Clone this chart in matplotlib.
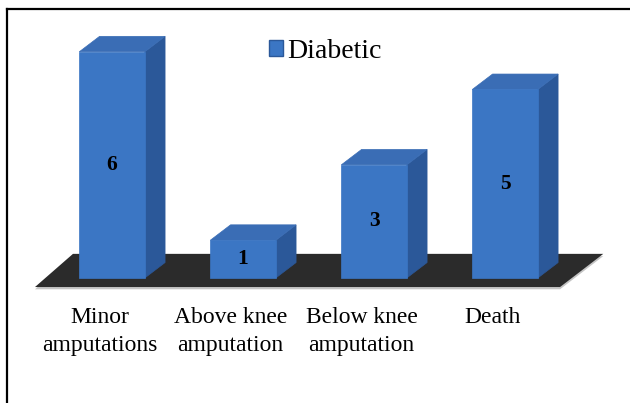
#!/usr/bin/env python3
"""Excel-style pseudo-3D column chart: outcomes in diabetic patients."""
import matplotlib
matplotlib.use("Agg")
import matplotlib.pyplot as plt
from matplotlib.patches import Polygon, Patch
from matplotlib.lines import Line2D

categories = ["Minor\namputations", "Above knee\namputation", "Below knee\namputation", "Death"]
values = [6, 1, 3, 5]
series_name = "Diabetic"

FRONT = "#3b76c4"
TOP = "#3a6db5"
SIDE = "#2b5899"
FLOOR = "#2b2b2b"
FLOOR_EDGE = "#c4c4c4"
SERIF = "Liberation Serif"

BAR_W = 0.5      # front face width (category units)
DX, DY = 0.155, 0.41   # depth offset of the 3D box

plt.rcParams["font.family"] = [SERIF, "DejaVu Serif"]

fig = plt.figure(figsize=(6.3, 4.03), dpi=100)
ax = fig.add_axes([0, 0, 1, 1])
ax.set_xlim(-0.855, 3.954)
ax.set_ylim(-3.316, 7.374)
ax.axis("off")

n = len(values)
# floor
fl = [(-0.588, -0.24), (n - 1 + 0.42, -0.24), (n - 1 + 0.75, 0.64), (-0.298, 0.64)]
shadow = [(x, y - 0.06) for x, y in fl]
ax.add_patch(Polygon(shadow, closed=True, facecolor=FLOOR_EDGE, edgecolor="none", zorder=1))
ax.add_patch(Polygon(fl, closed=True, facecolor=FLOOR, edgecolor="none", zorder=2))

for i, v in enumerate(values):
    x0, x1 = i - BAR_W / 2, i + BAR_W / 2
    front = [(x0, 0), (x1, 0), (x1, v), (x0, v)]
    side = [(x1, 0), (x1 + DX, DY), (x1 + DX, v + DY), (x1, v)]
    top = [(x0, v), (x1, v), (x1 + DX, v + DY), (x0 + DX, v + DY)]
    ax.add_patch(Polygon(side, closed=True, facecolor=SIDE, edgecolor=SIDE, lw=0.5, zorder=3))
    ax.add_patch(Polygon(top, closed=True, facecolor=TOP, edgecolor=TOP, lw=0.5, zorder=3))
    ax.add_patch(Polygon(front, closed=True, facecolor=FRONT, edgecolor=FRONT, lw=0.5, zorder=4))
    ax.text(i, v / 2, str(v), ha="center", va="center", fontsize=15.5,
            fontweight="bold", color="black", zorder=5)
    ax.text(i - 0.095, -0.78, categories[i], ha="center", va="top", fontsize=17,
            linespacing=1.4, color="black")

ax.legend(handles=[Patch(facecolor=FRONT, edgecolor="#2b5899", label=series_name)],
          loc="center", bbox_to_anchor=(325 / 630, 1 - 51 / 403),
          bbox_transform=fig.transFigure, frameon=False, fontsize=20,
          handlelength=0.5, handleheight=0.5, handletextpad=0.15, borderpad=0)

# chart frame (top and left edges visible)
fig.add_artist(Line2D([7 / 630, 1], [1 - 9 / 403, 1 - 9 / 403], color="black", lw=1.6))
fig.add_artist(Line2D([7 / 630, 7 / 630], [0, 1 - 9 / 403], color="black", lw=1.6))

fig.savefig("out.png", dpi=100)
